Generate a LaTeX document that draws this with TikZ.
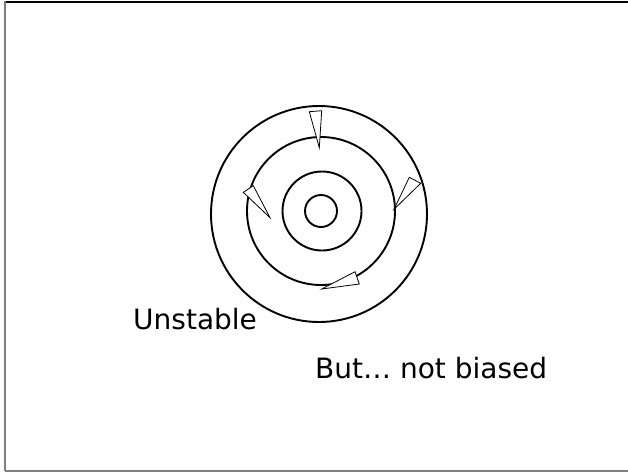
\documentclass[tikz,border=0pt]{standalone}
\usepackage{fontspec}
\setmainfont{DejaVu Sans}
\begin{document}
\begin{tikzpicture}[x=1pt,y=-1pt,
  ring/.style={draw=black,line width=1.9pt},
  marker/.style={draw=black,fill=white,line width=0.8pt,line join=miter},
  lbl/.style={font=\fontsize{28}{32}\selectfont,anchor=base west,inner sep=0pt}]
\useasboundingbox (0,0) rectangle (628,472);
% frame
\draw[black,line width=2pt] (5,1.5) -- (628,1.5);
\draw[gray,line width=1.4pt] (5,1) -- (5,471);
\draw[gray,line width=1.4pt] (5,471) -- (628,471);
% circles
\node[ring,circle,minimum size=216pt,inner sep=0pt] (c1) at (319,214) {};
\node[ring,circle,minimum size=148pt,inner sep=0pt] (c2) at (321,211) {};
\node[ring,circle,minimum size=79pt,inner sep=0pt] (c3) at (322,211) {};
\node[ring,circle,minimum size=32pt,inner sep=0pt] (c4) at (321,211) {};
% markers
\draw[marker] (309.3,111.7) -- (321.7,110.7) -- (319.3,147.7) -- cycle;
\draw[marker] (243.3,192.3) -- (253.3,185.7) -- (270,217.7) -- cycle;
\draw[marker] (409.3,177.3) -- (420.7,183.3) -- (394,209.3) -- cycle;
\draw[marker] (355,271.7) -- (359.3,284) -- (321.7,289) -- cycle;
% labels
\node[lbl] (u) at (133,329) {Unstable};
\node[lbl] (b) at (315,378) {But… not biased};
\end{tikzpicture}
\end{document}
